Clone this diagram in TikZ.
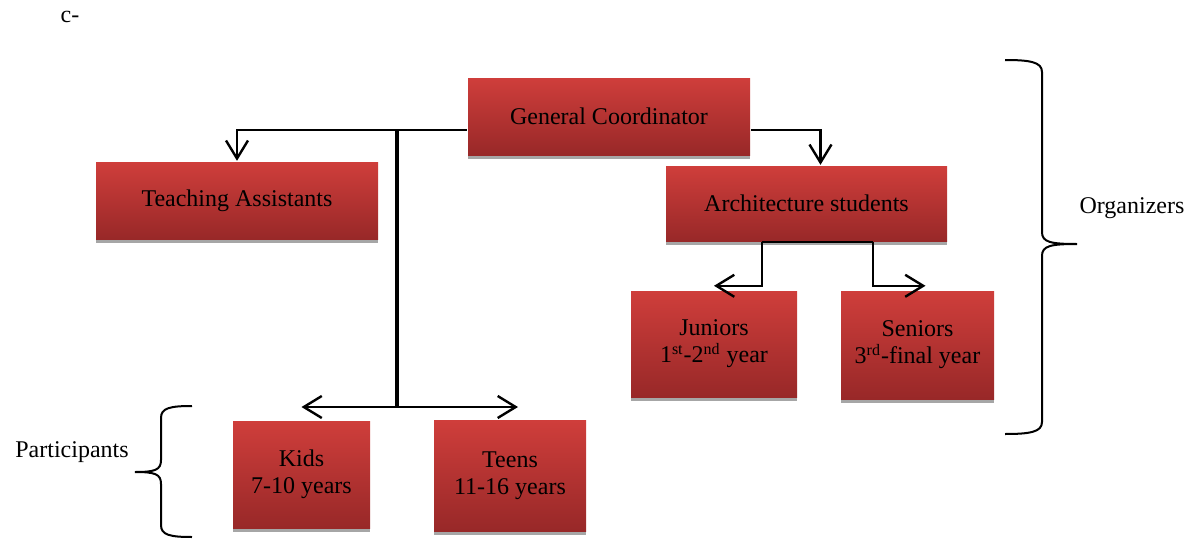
\documentclass[tikz,border=0pt]{standalone}
\usepackage{fontspec}
\setmainfont{Liberation Serif}
\usepackage{tikz}
\usetikzlibrary{arrows.meta,positioning,calc,shadows}
\definecolor{boxtop}{RGB}{207,62,59}
\definecolor{boxbot}{RGB}{152,40,40}
\definecolor{shadowgray}{RGB}{166,166,166}

\begin{document}
\begin{tikzpicture}[x=0.5pt,y=-0.5pt,line width=1.2pt,font=\fontsize{12}{13.5}\selectfont]
\tikzstyle{unit}=[rectangle,top color=boxtop,bottom color=boxbot,inner sep=0pt,align=center,
  drop shadow={shadow xshift=0pt,shadow yshift=-2pt,fill=shadowgray,opacity=1}]
  \tikzstyle{link}=[line width=1.2pt]
  \tikzstyle{arr}=[line width=1.2pt,-{Straight Barb[length=9pt,width=11pt]}]
  \tikzstyle{trunk}=[line width=1.8pt]
%
\useasboundingbox (0,0) rectangle (1191,541);
\node (cmark) at (70,17) {c-};
%
\node[unit,minimum width=141pt,minimum height=38.5pt] (gen) at (609,116.5) {General Coordinator};
  \node[unit,minimum width=141pt,minimum height=38.5pt] (teach) at (237,200.5) {Teaching Assistants};
  \node[unit,minimum width=140.5pt,minimum height=37.5pt] (arch) at (806.5,203.5) {Architecture students};
  \node[unit,minimum width=83pt,minimum height=53pt] (jun) at (714,344) {Juniors\\1\textsuperscript{st}-2\textsuperscript{nd} year};
  \node[unit,minimum width=76.5pt,minimum height=54pt] (sen) at (917.5,345) {Seniors\\3\textsuperscript{rd}-final year};
  \node[unit,minimum width=68.5pt,minimum height=53.5pt] (kids) at (301.5,474.5) {Kids\\7-10 years};
  \node[unit,minimum width=76pt,minimum height=55.5pt] (teens) at (510,475.5) {Teens\\11-16 years};
%
\node (org) at (1132,208) {Organizers};
  \node (part) at (72,452) {Participants};
%
\coordinate (jtop) at (397,130);
  \coordinate (jbot) at (397,407);
  \coordinate (ajl) at ([xshift=-22.25pt]arch.south);
  \coordinate (ajr) at ([xshift=33.25pt]arch.south);

  \draw[arr] (gen.west |- jtop) -| (teach.north);
  \draw[trunk] (jtop) -- (jbot);
  \draw[arr] (jbot) -- (kids.north |- jbot);
  \draw[arr] (jbot) -- ([xshift=4pt]teens.north |- jbot);
  \draw[arr] (gen.east |- jtop) -| ([xshift=7pt]arch.north);
  \draw[link] (ajl) -- (ajr);
  \draw[arr] (ajl) |- ([yshift=2pt]jun.north);
  \draw[arr] (ajr) |- ([xshift=4pt,yshift=2pt]sen.north);
%
\draw[line width=1pt] (1005,60) .. controls (1030,60) and (1042,62) .. (1042,72) -- (1042,232)
    .. controls (1042,242) and (1050,244) .. (1077,244)
    .. controls (1050,244) and (1042,246) .. (1042,256) -- (1042,422)
    .. controls (1042,432) and (1030,434) .. (1005,434);
  \draw[line width=1pt] (192,406) .. controls (170,406) and (161,408) .. (161,418) -- (161,460)
    .. controls (161,470) and (155,472) .. (135,472)
    .. controls (155,472) and (161,474) .. (161,484) -- (161,525)
    .. controls (161,535) and (170,537) .. (192,537);
\end{tikzpicture}
\end{document}
